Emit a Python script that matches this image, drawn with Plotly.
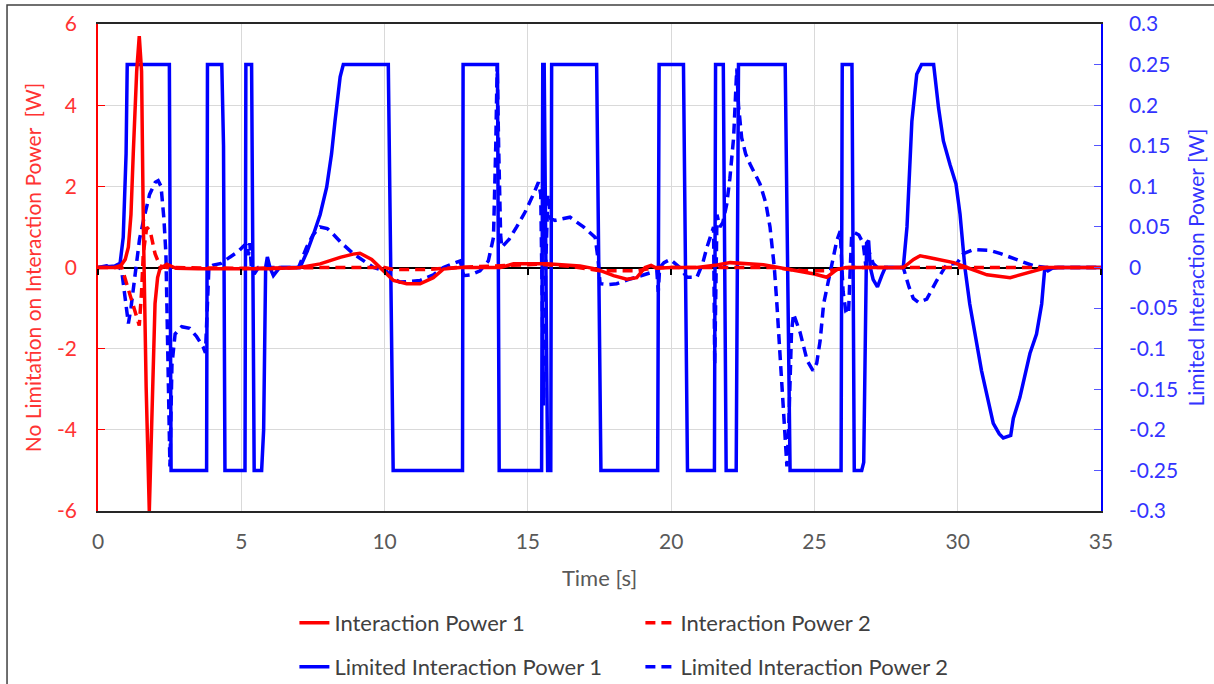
"""Interaction power: unlimited (left axis) vs limited (right axis)."""
import plotly.graph_objects as go

# ---- data ----
t_ip1 = [0, 0.6, 0.8, 0.95, 1.06, 1.15, 1.23, 1.3, 1.35, 1.44, 1.52, 1.58, 1.68, 1.79, 1.87,
         1.99, 2.08, 2.16, 2.4, 2.72, 3.5, 5.0, 6.0, 7.05, 7.75, 8.45, 8.9, 9.14, 9.55, 9.9,
         10.31, 10.77, 11.24, 11.7, 12.05, 12.63, 14.05, 14.5, 15.43, 15.66, 16.82, 17.4,
         17.99, 18.45, 18.8, 19.09, 19.3, 19.5, 20.0, 20.9, 21.6, 22.06, 23.22, 23.92, 24.62,
         25.0, 25.43, 25.78, 26.1, 28.1, 28.46, 28.69, 29.16, 29.86, 30.32, 31.02, 31.83,
         32.53, 33.1, 35]
ip1 = [0, 0.0, 0.05, 0.2, 0.5, 1.3, 2.8, 4.0, 4.84, 5.7, 4.84, 1.16, -2.94, -6.0, -3.76,
       -0.89, -0.25, -0.04, 0.08, -0.02, -0.03, -0.02, -0.03, 0, 0.09, 0.25, 0.33, 0.35, 0.2,
       -0.04, -0.32, -0.4, -0.4, -0.25, -0.04, 0.0, 0.0, 0.09, 0.1, 0.09, 0.04, -0.04, -0.2,
       -0.29, -0.25, 0.0, 0.05, -0.02, 0.0, 0.0, 0.06, 0.12, 0.065, -0.02, -0.12, -0.16,
       -0.24, -0.05, 0.0, 0.0, 0.2, 0.29, 0.22, 0.12, 0.0, -0.18, -0.25, -0.12, 0, 0]

t_ip2 = [0, 0.83, 1.0, 1.23, 1.44, 1.52, 1.58, 1.7, 1.82, 1.99, 2.16, 2.4, 5, 8, 10, 10.3,
         11.5, 12.5, 14.5, 15.4, 16.5, 17.5, 18.8, 19.5, 23.5, 24.6, 25.5, 26.2, 35]
ip2 = [0, 0, -0.4, -0.98, -1.43, -0.6, 0.34, 0.99, 0.9, 0.34, 0.04, 0.0, -0.02, 0.0, 0.0,
       -0.05, -0.05, 0, 0.05, 0.08, 0.03, -0.08, -0.08, 0, 0, -0.08, -0.08, 0, 0]

t_lp1 = [0, 0.6, 0.77, 0.88, 0.98, 1.02, 2.49, 2.55, 3.79, 3.82, 4.32, 4.38, 4.43, 5.13, 5.16,
         5.36, 5.45, 5.71, 5.78, 5.85, 5.91, 6.0, 6.12, 6.34, 7.05, 7.3, 7.52, 7.75, 7.98, 8.15,
         8.27, 8.45, 8.56, 10.13, 10.3, 12.72, 12.74, 13.94, 14.0, 15.48, 15.52, 15.57, 15.69,
         15.8, 15.83, 17.4, 17.55, 19.53, 19.58, 20.43, 20.57, 21.51, 21.55, 21.82, 21.92,
         22.27, 22.35, 23.98, 24.15, 25.93, 25.97, 26.31, 26.39, 26.65, 26.72, 26.77, 26.82,
         26.89, 26.95, 27.05, 27.2, 27.35, 27.47, 28.1, 28.23, 28.4, 28.57, 28.74, 29.16,
         29.33, 29.5, 29.73, 29.94, 30.08, 30.25, 30.42, 30.83, 31.24, 31.45, 31.59, 31.85,
         31.94, 32.17, 32.52, 32.75, 32.93, 33.04, 33.15, 33.3, 33.5, 35]
lp1 = [0, 0.002, 0.005, 0.037, 0.14, 0.25, 0.25, -0.25, -0.25, 0.25, 0.25, 0.15, -0.25,
       -0.25, 0.25, 0.25, -0.25, -0.25, -0.2, 0.0, 0.013, 0.0, -0.01, 0.0, 0.0, 0.02, 0.041,
       0.065, 0.099, 0.14, 0.18, 0.235, 0.25, 0.25, -0.25, -0.25, 0.25, 0.25, -0.25, -0.25,
       0.25, 0.25, -0.25, -0.25, 0.25, 0.25, -0.25, -0.25, 0.25, 0.25, -0.25, -0.25, 0.25,
       0.25, -0.25, -0.25, 0.25, 0.25, -0.25, -0.25, 0.25, 0.25, -0.25, -0.25, -0.24, -0.1,
       0.03, 0.033, 0.0, -0.015, -0.024, -0.01, 0.0, 0.0, 0.05, 0.18, 0.238, 0.25, 0.25,
       0.197, 0.156, 0.127, 0.103, 0.066, 0.0, -0.045, -0.127, -0.192, -0.205, -0.21, -0.207,
       -0.186, -0.16, -0.106, -0.082, -0.045, 0.0, -0.004, -0.001, 0, 0]

t_lp2 = [0, 0.3, 0.5, 0.7, 0.83, 0.95, 1.06, 1.15, 1.3, 1.45, 1.6, 1.8, 2.0, 2.1, 2.2, 2.3,
         2.37, 2.45, 2.51, 2.58, 2.69, 2.92, 3.2, 3.44, 3.67, 3.75, 3.8, 3.87, 4.02, 4.3, 4.6,
         4.9, 5.1, 5.2, 5.25, 5.3, 5.35, 5.45, 5.6, 7.0, 7.28, 7.5, 7.75, 8.0, 8.21, 8.5, 8.91,
         9.3, 9.61, 10.08, 10.2, 10.54, 11.24, 11.7, 12.05, 12.4, 12.63, 12.7, 12.75, 13.0,
         13.33, 13.62, 13.8, 13.88, 13.93, 13.98, 14.05, 14.09, 14.35, 14.61, 14.9, 15.19,
         15.37, 15.45, 15.5, 15.55, 15.62, 15.7, 15.8, 15.95, 16.2, 16.47, 16.94, 17.35, 17.45,
         17.52, 17.8, 18.1, 18.5, 18.92, 19.3, 19.5, 19.55, 19.6, 19.75, 19.97, 20.3, 20.55,
         20.9, 21.1, 21.25, 21.48, 21.52, 21.56, 21.6, 21.7, 21.8, 21.94, 22.05, 22.18, 22.29,
         22.35, 22.46, 22.6, 22.76, 23.1, 23.3, 23.45, 23.6, 23.69, 23.8, 23.92, 24.04, 24.1,
         24.2, 24.27, 24.5, 24.75, 24.95, 25.08, 25.2, 25.32, 25.55, 25.78, 25.9, 26.0, 26.1,
         26.19, 26.25, 26.3, 26.4, 26.55, 26.7, 26.8, 26.9, 27.05, 27.2, 28.1, 28.3, 28.45,
         28.63, 28.92, 29.27, 29.62, 29.97, 30.2, 30.55, 31.13, 31.5, 31.83, 32.3, 32.65,
         33.1, 35]
lp2 = [0, 0.002, 0.0, 0.003, -0.005, -0.04, -0.069, -0.05, -0.005, 0.035, 0.06, 0.09, 0.105,
       0.107, 0.1, 0.06, 0.017, -0.15, -0.245, -0.12, -0.082, -0.073, -0.075, -0.085, -0.098,
       -0.105, -0.06, 0.0, 0.003, 0.005, 0.0127, 0.02, 0.027, 0.03, 0.015, 0.03, 0.0, -0.008,
       0, 0, 0.025, 0.04, 0.05, 0.048, 0.041, 0.03, 0.017, 0.007, 0.0, -0.005, -0.012, -0.018,
       -0.016, -0.009, 0.0, 0.005, 0.008, 0.0, -0.01, -0.009, -0.004, 0.008, 0.037, 0.15,
       0.25, 0.15, 0.04, 0.025, 0.035, 0.05, 0.068, 0.09, 0.105, 0.09, -0.05, -0.17, 0.0,
       0.09, 0.06, 0.058, 0.06, 0.062, 0.05, 0.037, 0.01, -0.02, -0.021, -0.02, -0.015, -0.01,
       -0.006, -0.004, -0.03, 0.0, 0.006, 0.01, 0.0, -0.012, -0.012, 0.005, 0.025, 0.05,
       -0.12, 0.0, 0.065, 0.05, 0.055, 0.078, 0.11, 0.16, 0.245, 0.2, 0.16, 0.14, 0.127,
       0.103, 0.08, 0.05, 0.0, -0.045, -0.11, -0.188, -0.245, -0.2, -0.08, -0.057, -0.08,
       -0.115, -0.127, -0.118, -0.09, -0.045, -0.005, 0.033, 0.045, -0.03, -0.055, -0.057,
       0.0, 0.04, 0.043, 0.04, 0.03, 0.0, 0.02, 0.005, 0, 0, -0.024, -0.038, -0.043, -0.039,
       -0.016, 0.004, 0.005, 0.017, 0.022, 0.021, 0.017, 0.0127, 0.007, 0.002, 0, 0]

left_ticks = [-6, -4, -2, 0, 2, 4, 6]
left_labels = ["-6", "-4", "-2", "0", "2", "4", "6"]
right_ticks = [-0.3, -0.25, -0.2, -0.15, -0.1, -0.05, 0, 0.05, 0.1, 0.15, 0.2, 0.25, 0.3]
right_labels = ["-0.3", "-0.25", "-0.2", "-0.15", "-0.1", "-0.05", "0",
                "0.05", "0.1", "0.15", "0.2", "0.25", "0.3"]

FONT = "Lato"
RED = "#FF0000"
BLUE = "#0000FF"
DASH = "10px,6px"

fig = go.Figure()
# blue series live on the base axis (right side), red ones on the overlay so they draw on top
fig.add_trace(go.Scatter(x=t_lp1, y=lp1, name="Limited Interaction Power 1", mode="lines",
                         line=dict(color=BLUE, width=3.5), yaxis="y", legend="legend2"))
fig.add_trace(go.Scatter(x=t_lp2, y=lp2, name="Limited Interaction Power 2", mode="lines",
                         line=dict(color=BLUE, width=3.5, dash=DASH), yaxis="y", legend="legend2"))
fig.add_trace(go.Scatter(x=t_ip1, y=ip1, name="Interaction Power 1", mode="lines",
                         line=dict(color=RED, width=3.5), yaxis="y2", legend="legend"))
fig.add_trace(go.Scatter(x=t_ip2, y=ip2, name="Interaction Power 2", mode="lines",
                         line=dict(color=RED, width=3.5, dash=DASH), yaxis="y2", legend="legend"))
# empty trace so the tick-only axis sitting on the zero line gets drawn
fig.add_trace(go.Scatter(x=[], y=[], xaxis="x2", yaxis="y", showlegend=False, hoverinfo="skip"))

# legends are placed in container coords so they don't eat into the plot area
legend_common = dict(orientation="h", xanchor="left", yanchor="middle",
                     xref="container", yref="container",
                     entrywidth=301, entrywidthmode="pixels", traceorder="normal",
                     font=dict(family=FONT, size=22, color="#404040"),
                     bgcolor="rgba(0,0,0,0)")

fig.update_layout(
    width=1214, height=684,
    margin=dict(l=98, r=113, t=24, b=173, autoexpand=False),
    paper_bgcolor="white", plot_bgcolor="white",
    font=dict(family=FONT, size=21, color="#595959"),
    showlegend=True,
    legend=dict(x=0.2425, y=0.0892, **legend_common),
    legend2=dict(x=0.2425, y=0.0249, **legend_common),
    xaxis=dict(range=[0, 35], dtick=5, showgrid=True, gridcolor="#D9D9D9", gridwidth=1,
               showline=True, mirror=True, linecolor="#262626", linewidth=1.5,
               zeroline=False, ticks="", ticklabelstandoff=11, automargin=False,
               tickfont=dict(family=FONT, size=21, color="#595959"),
               title=dict(text="Time [s]", standoff=19,
                          font=dict(family=FONT, size=22, color="#595959"))),
    # tick marks hanging off the zero line, as in the original
    xaxis2=dict(matches="x", overlaying="x", anchor="free", position=0.5, dtick=5,
                showgrid=False, zeroline=False, showline=False, showticklabels=False,
                ticks="outside", ticklen=6, tickwidth=1.5, tickcolor="#000000",
                automargin=False),
    yaxis=dict(range=[-0.3, 0.3], side="right", tickvals=right_ticks, ticktext=right_labels,
               showgrid=False, zeroline=False, showline=True, linecolor=BLUE, linewidth=1.5,
               ticks="inside", ticklen=7, tickcolor="#5555FF", ticklabelstandoff=22,
               automargin=False,
               tickfont=dict(family=FONT, size=21, color="#3333FF"),
               title=dict(text="Limited Interaction Power [W]", standoff=12,
                          font=dict(family=FONT, size=21, color="#3333FF"))),
    yaxis2=dict(range=[-6, 6], side="left", overlaying="y", tickvals=left_ticks,
                ticktext=left_labels, showgrid=True, gridcolor="#D9D9D9", gridwidth=1,
                zeroline=True, zerolinecolor="#000000", zerolinewidth=1.5,
                showline=True, linecolor=RED, linewidth=1.5,
                ticks="inside", ticklen=7, tickcolor=RED, ticklabelstandoff=15,
                automargin=False,
                tickfont=dict(family=FONT, size=21, color="#FF3333"),
                title=dict(text="No Limitation on Interaction Power  [W]", standoff=10,
                           font=dict(family=FONT, size=21, color="#FF3333"))),
    shapes=[dict(type="rect", xref="paper", yref="paper",
                 x0=-0.0907, x1=1.2, y0=-0.5, y1=1.039,
                 line=dict(color="#404040", width=1.5), fillcolor="rgba(0,0,0,0)")],
)

# the page's default body margin would shift the figure; drop it
fig.write_html("out.html", config={"displayModeBar": False},
               post_script="document.body.style.margin='0';")
